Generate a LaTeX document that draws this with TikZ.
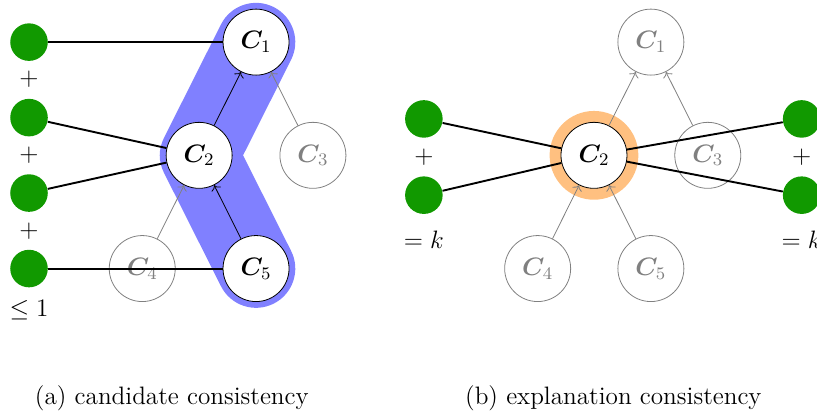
\RequirePackage{fix-cm}
\documentclass[tikz,border=0pt]{standalone}
\usepackage{amsmath,amssymb,bm}
\usepackage{tikz}
\usetikzlibrary{arrows.meta,positioning,backgrounds}
\definecolor{dotgreen}{RGB}{17,153,0}
\definecolor{bandblue}{RGB}{128,128,255}
\definecolor{ringorange}{RGB}{255,192,128}
\newcommand{\figfont}{\fontsize{12.6}{15}\selectfont}

\begin{document}
\begin{tikzpicture}[
  cand/.style={circle, draw, fill=white, minimum size=1.16cm, inner sep=0pt, font=\figfont},
  faded/.style={circle, draw=gray, text=gray, minimum size=1.16cm, inner sep=0pt, font=\figfont},
  var/.style={circle, fill=dotgreen, minimum size=0.66cm, inner sep=0pt},
  op/.style={font=\figfont, inner sep=1pt},
  lnk/.style={line width=0.95pt},
  dep/.style={->},
  fdep/.style={->, gray}
]
\useasboundingbox (0,0) rectangle (14.36,-7.29);

% (a) candidate consistency
\node[cand] (a1) at (4.5,-0.74) {$\bm{C}_1$};
\node[cand] (a2) at (3.5,-2.73) {$\bm{C}_2$};
\node[faded] (a3) at (5.5,-2.73) {$\bm{C}_3$};
\node[faded] (a4) at (2.5,-4.72) {$\bm{C}_4$};
\node[cand] (a5) at (4.5,-4.72) {$\bm{C}_5$};

\node[var] (x1) at (0.51,-0.74) {};
\node[var] (x2) at (0.51,-2.067) {};
\node[var] (x3) at (0.51,-3.393) {};
\node[var] (x4) at (0.51,-4.72) {};
\node[op] (p1) at (0.51,-1.40) {$+$};
\node[op] (p2) at (0.51,-2.73) {$+$};
\node[op] (p3) at (0.51,-4.06) {$+$};
\node[op] (le) at (0.51,-5.45) {$\leq 1$};

\begin{scope}[on background layer]
\draw[bandblue, line width=1.38cm, line cap=round, line join=round]
  (a5.center) -- (a2.center) -- (a1.center);
\end{scope}

\draw[dep] (a2) -- (a1);
\draw[dep] (a5) -- (a2);
\draw[fdep] (a3) -- (a1);
\draw[fdep] (a4) -- (a2);

\draw[lnk] (x1) -- (a1);
\draw[lnk] (x2) -- (a2);
\draw[lnk] (x3) -- (a2);
\draw[lnk] (x4) -- (a5);

\node[font=\figfont] (capa) at (3.02,-7.0) {(a) candidate consistency};

% (b) explanation consistency
\node[faded] (b1) at (11.44,-0.74) {$\bm{C}_1$};
\node[cand] (b2) at (10.44,-2.73) {$\bm{C}_2$};
\node[faded] (b3) at (12.44,-2.73) {$\bm{C}_3$};
\node[faded] (b4) at (9.45,-4.72) {$\bm{C}_4$};
\node[faded] (b5) at (11.44,-4.72) {$\bm{C}_5$};

\node[var] (y1) at (7.45,-2.09) {};
\node[var] (y2) at (7.45,-3.43) {};
\node[var] (z1) at (14.09,-2.09) {};
\node[var] (z2) at (14.09,-3.43) {};
\node[op] (q1) at (7.45,-2.76) {$+$};
\node[op] (eq1) at (7.45,-4.22) {$=k$};
\node[op] (q2) at (14.09,-2.76) {$+$};
\node[op] (eq2) at (14.09,-4.22) {$=k$};

\begin{scope}[on background layer]
\draw[ringorange, line width=0.2cm] (b2.center) circle (0.68cm);
\end{scope}

\draw[fdep] (b2) -- (b1);
\draw[fdep] (b3) -- (b1);
\draw[fdep] (b4) -- (b2);
\draw[fdep] (b5) -- (b2);

\draw[lnk] (y1) -- (b2);
\draw[lnk] (y2) -- (b2);
\draw[lnk] (z1) -- (b2);
\draw[lnk] (z2) -- (b2);

\node[font=\figfont] (capb) at (10.78,-7.0) {(b) explanation consistency};
\end{tikzpicture}
\end{document}
